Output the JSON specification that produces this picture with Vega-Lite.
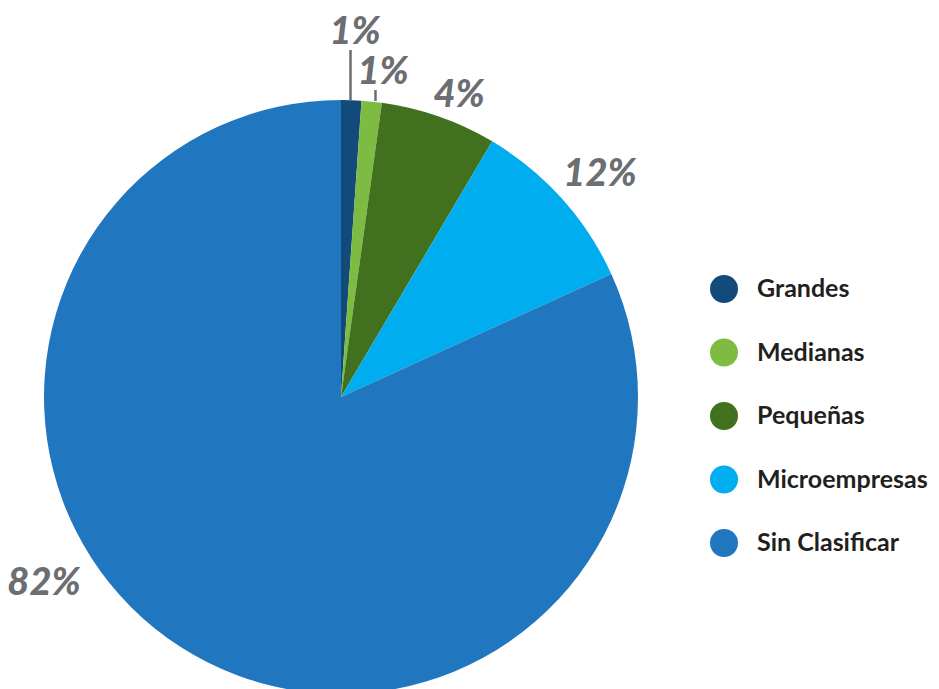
{
  "$schema": "https://vega.github.io/schema/vega-lite/v6.json",
  "width": 939,
  "height": 689,
  "autosize": "none",
  "padding": 0,
  "background": "white",
  "config": {"view": {"stroke": null}},
  "datasets": {
    "d": [
      {"orden": 1, "categoria": "Grandes", "valor": 1.1, "etiqueta": "1%"},
      {"orden": 2, "categoria": "Medianas", "valor": 1.1, "etiqueta": "1%"},
      {"orden": 3, "categoria": "Pequeñas", "valor": 6.3, "etiqueta": "4%"},
      {"orden": 4, "categoria": "Microempresas", "valor": 9.7, "etiqueta": "12%"},
      {"orden": 5, "categoria": "Sin Clasificar", "valor": 81.8, "etiqueta": "82%"}
    ]
  },
  "layer": [
    {
      "data": {"name": "d"},
      "mark": {"type": "arc", "radius": 297},
      "encoding": {
        "x": {"value": 341},
        "y": {"value": 397},
        "theta": {"field": "valor", "type": "quantitative", "stack": true},
        "order": {"field": "orden", "type": "quantitative"},
        "color": {
          "field": "categoria",
          "type": "nominal",
          "scale": {
            "domain": ["Grandes", "Medianas", "Pequeñas", "Microempresas", "Sin Clasificar"],
            "range": ["#124a7a", "#7dbb42", "#41711e", "#00adef", "#2177bf"]
          },
          "legend": {
            "title": null,
            "orient": "none",
            "legendX": 710,
            "legendY": 275,
            "symbolType": "circle",
            "symbolSize": 784,
            "symbolStrokeWidth": 0,
            "symbolOpacity": 1,
            "labelFont": "Lato",
            "labelFontWeight": "bold",
            "labelFontSize": 25,
            "labelColor": "#231f20",
            "labelOffset": 19,
            "rowPadding": 35.5,
            "labelLimit": 300,
            "padding": 0
          }
        }
      }
    },
    {
      "data": {"name": "d"},
      "mark": {"type": "rule", "color": "#6d6e71", "strokeWidth": 2.5},
      "encoding": {
        "x": {"value": 350.5},
        "x2": {"value": 350.5},
        "y": {"value": 50},
        "y2": {"value": 100}
      },
      "transform": [{"filter": "datum.categoria == 'Grandes'"}]
    },
    {
      "data": {"name": "d"},
      "mark": {"type": "rule", "color": "#6d6e71", "strokeWidth": 2.5},
      "encoding": {
        "x": {"value": 375.5},
        "x2": {"value": 375.5},
        "y": {"value": 90},
        "y2": {"value": 101}
      },
      "transform": [{"filter": "datum.categoria == 'Medianas'"}]
    },
    {
      "data": {"name": "d"},
      "transform": [{"filter": "datum.categoria == 'Grandes'"}],
      "mark": {"type": "text", "font": "Lato", "fontWeight": 900, "fontStyle": "italic", "fontSize": 38, "color": "#6d6e71", "align": "center", "baseline": "middle"},
      "encoding": {"x": {"value": 355}, "y": {"value": 33}, "text": {"field": "etiqueta"}}
    },
    {
      "data": {"name": "d"},
      "transform": [{"filter": "datum.categoria == 'Medianas'"}],
      "mark": {"type": "text", "font": "Lato", "fontWeight": 900, "fontStyle": "italic", "fontSize": 38, "color": "#6d6e71", "align": "center", "baseline": "middle"},
      "encoding": {"x": {"value": 383}, "y": {"value": 73}, "text": {"field": "etiqueta"}}
    },
    {
      "data": {"name": "d"},
      "transform": [{"filter": "datum.categoria == 'Pequeñas'"}],
      "mark": {"type": "text", "font": "Lato", "fontWeight": 900, "fontStyle": "italic", "fontSize": 38, "color": "#6d6e71", "align": "center", "baseline": "middle"},
      "encoding": {"x": {"value": 459}, "y": {"value": 96}, "text": {"field": "etiqueta"}}
    },
    {
      "data": {"name": "d"},
      "transform": [{"filter": "datum.categoria == 'Microempresas'"}],
      "mark": {"type": "text", "font": "Lato", "fontWeight": 900, "fontStyle": "italic", "fontSize": 38, "color": "#6d6e71", "align": "center", "baseline": "middle"},
      "encoding": {"x": {"value": 600}, "y": {"value": 175}, "text": {"field": "etiqueta"}}
    },
    {
      "data": {"name": "d"},
      "transform": [{"filter": "datum.categoria == 'Sin Clasificar'"}],
      "mark": {"type": "text", "font": "Lato", "fontWeight": 900, "fontStyle": "italic", "fontSize": 38, "color": "#6d6e71", "align": "center", "baseline": "middle"},
      "encoding": {"x": {"value": 44}, "y": {"value": 584}, "text": {"field": "etiqueta"}}
    }
  ]
}
